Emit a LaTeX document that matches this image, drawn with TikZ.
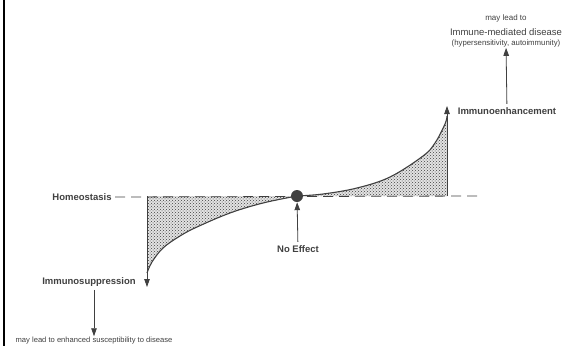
\documentclass[tikz,border=0pt]{standalone}
\usepackage{fontspec}
\setmainfont{Liberation Sans}
\usepackage{tikz}
\usetikzlibrary{arrows.meta,patterns}
\definecolor{ink}{HTML}{404040}
\tikzstyle{label} = [text=ink, font=\fontsize{9.5}{11}\selectfont\bfseries]
\tikzstyle{note} = [text=ink, inner sep=1pt]
\tikzstyle{link} = [draw=ink, line width=0.8pt]
\tikzstyle{curve} = [draw=ink, line width=1.1pt]
\tikzstyle{shade} = [preaction={fill=gray!22}, pattern=crosshatch dots, pattern color=ink]

\begin{document}
\begin{tikzpicture}[x=1pt, y=-1pt, >={Triangle[length=8pt,width=5.5pt]}]
    \useasboundingbox (0,0) rectangle (566,346);
    \fill[black] (2.6,0) rectangle (5,346);
    \coordinate (hleft) at (147,196);
    \coordinate (hright) at (447,196);
    \coordinate (suptip) at (147,287);
    \coordinate (enhtip) at (447,106);
    \coordinate (baseend) at (478,196);
    \node [label] (homeo) at (82,197) {Homeostasis};
    \node [label] (immsup) at (89,282) {Immunosuppression};
    \node [label] (immenh) at (507,111) {Immunoenhancement};
    \node [label] (noeff) at (298,249) {No Effect};
    \node [note, font=\fontsize{7.6}{9}\selectfont] (suplead) at (94,341) {may lead to enhanced susceptibility to disease};
    \node [note, font=\fontsize{8}{9}\selectfont] (lead1) at (506,18) {may lead to};
    \node [note, font=\fontsize{9.5}{11}\selectfont, below of=lead1, node distance=14pt] (lead2) {Immune-mediated disease};
    \node [note, font=\fontsize{7.8}{9}\selectfont, below of=lead2, node distance=11pt] (lead3) {(hypersensitivity, autoimmunity)};
	\fill [shade] (hleft) -- plot[smooth, tension=0.6] coordinates {(147,273) (152,262) (163,248) (180,236) (197,227) (230,213) (263,203) (297,196)} -- cycle;
	\fill [shade] (hright) -- plot[smooth, tension=0.6] coordinates {(447,116) (445,124) (435,143) (423,156) (390,177) (357,188) (323,194) (297,196)} -- cycle;
	\draw [link, dash pattern=on 10pt off 6pt] (homeo.east) -- (baseend);
	\draw [curve] plot[smooth, tension=0.6] coordinates {(147,273) (152,262) (163,248) (180,236) (197,227) (230,213) (263,203) (297,196)};
	\draw [curve] plot[smooth, tension=0.6] coordinates {(297,196) (323,194) (357,188) (390,177) (423,156) (435,143) (445,124) (447,116)};
    \node [circle, fill=ink, minimum size=12pt, inner sep=0pt] (dot) at (297,196) {};
	\draw [link, ->] (hleft) -- (suptip);
	\draw [link, ->] (hright) -- (enhtip);
	\draw [link, ->] (noeff) -- (dot);
	\draw [link, ->] (immsup.south -| suplead) -- (suplead.north);
	\draw [link, ->] (immenh) -- (lead3);
\end{tikzpicture}
\end{document}
